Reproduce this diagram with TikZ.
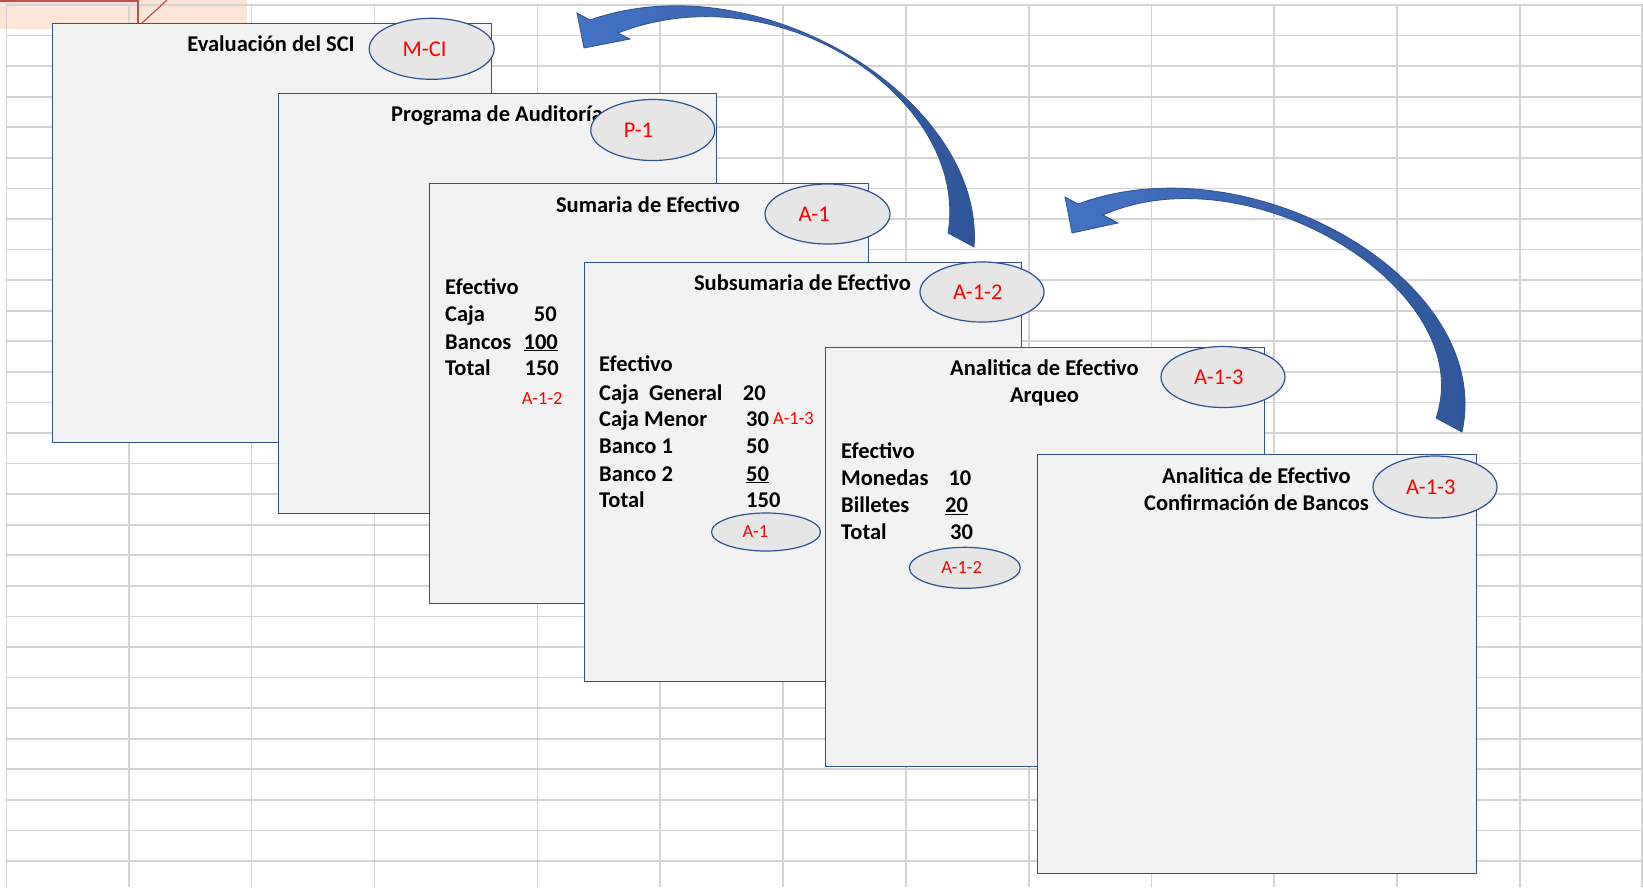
\documentclass[tikz,border=0pt]{standalone}
\usepackage{fontspec}
\setmainfont{Carlito}
\usetikzlibrary{shapes.geometric}
\definecolor{boxfill}{HTML}{F2F2F2}
\definecolor{boxline}{HTML}{2F528F}
\definecolor{ellfill}{HTML}{E6E6E6}
\definecolor{gridgray}{HTML}{D4D4D4}
\definecolor{pinkband}{HTML}{FCE4D6}
\definecolor{redline}{HTML}{C0504D}
\definecolor{arrowlight}{HTML}{4472C4}
\definecolor{arrowdark}{HTML}{2F5597}
\newcommand{\bigref}[1]{\makebox[58pt][l]{#1}}
\newcommand{\smallref}[1]{\makebox[47pt][l]{#1}}
\begin{document}
\begin{tikzpicture}[x=1pt,y=-1pt,
  sheet/.style={draw=boxline, line width=1.4pt, fill=boxfill},
  refmark/.style={ellipse, draw=boxline, line width=1.2pt, fill=ellfill, inner sep=0pt, text=red, font=\fontsize{22.5}{27}\selectfont},
  srefmark/.style={refmark, font=\fontsize{18.5}{22}\selectfont},
  titletxt/.style={anchor=base, inner sep=0pt, font=\bfseries\fontsize{22.5}{27}\selectfont},
  bodytxt/.style={anchor=base west, inner sep=0pt, font=\bfseries\fontsize{22.5}{27}\selectfont},
  numr/.style={anchor=base east, inner sep=0pt, font=\bfseries\fontsize{22.5}{27}\selectfont},
  redtxt/.style={anchor=base west, inner sep=0pt, text=red, font=\fontsize{18.5}{22}\selectfont},
  gridline/.style={draw=gridgray, line width=1.8pt},
  blockarrow/.style={draw=boxline, line width=0.8pt, left color=arrowlight, right color=arrowdark}]
\useasboundingbox (0,0) rectangle (1643,887);
\fill[white] (0,0) rectangle (1643,887);
% spreadsheet background
\fill[pinkband] (0,0) rectangle (247,29);
\foreach \xx in {6.5,129,251.5,374.5,537.5,660,783,906,1029,1151.5,1274,1397,1520,1642}
  \draw[gridline] (\xx,5) -- (\xx,887);
\foreach \k in {0,...,28}
  \draw[gridline] (6,{5+30.57*\k}) -- (1643,{5+30.57*\k});
\draw[redline, line width=1.4pt] (0,1) -- (138,1) -- (138,23);
\draw[redline, line width=1.2pt] (167,0) -- (142,23);

% sheet 1
\node[sheet, anchor=north west, minimum width=439pt, minimum height=419pt, inner sep=0pt] (s1) at (52,23) {};
\node[titletxt] (t1) at (271,51.7) {Evaluación del SCI};
\node[refmark, minimum width=125pt, minimum height=61pt] (e1) at (431.7,48.8) {\bigref{M-CI}};

% sheet 2
\node[sheet, anchor=north west, minimum width=438pt, minimum height=420pt, inner sep=0pt] (s2) at (278,93) {};
\node[titletxt] (t2) at (497,121.7) {Programa de Auditoría};
\node[refmark, minimum width=124pt, minimum height=61pt] (e2) at (652.8,130) {\bigref{P-1}};

% sheet 3
\node[sheet, anchor=north west, minimum width=439pt, minimum height=420pt, inner sep=0pt] (s3) at (429,183) {};
\node[titletxt] (t3) at (648,212) {Sumaria de Efectivo};
\node[refmark, minimum width=125pt, minimum height=60pt] (e3) at (827.5,214) {\bigref{A-1}};
\node[bodytxt] (a1) at (445,294) {Efectivo};
\node[bodytxt] (a2) at (445,321.7) {Caja};
\node[numr] (a2n) at (557,321.7) {50};
\node[bodytxt] (a3) at (445,349) {Bancos};
\node[numr] (a3n) at (558,349) {\underline{100}};
\node[bodytxt] (a4) at (445,375) {Total};
\node[numr] (a4n) at (559,375) {150};
\node[redtxt] (a5) at (521.7,404) {A-1-2};

% sheet 4
\node[sheet, anchor=north west, minimum width=437pt, minimum height=419pt, inner sep=0pt] (s4) at (584,262) {};
\node[titletxt] (t4) at (802.5,290) {Subsumaria de Efectivo};
\node[refmark, minimum width=124pt, minimum height=60pt] (e4) at (982,292) {\bigref{A-1-2}};
\node[bodytxt] (b1) at (599,371.7) {Efectivo};
\node[bodytxt] (b2) at (599,400) {Caja\ \ General};
\node[bodytxt] (b2n) at (742.7,400) {20};
\node[bodytxt] (b3) at (599,426.7) {Caja Menor};
\node[bodytxt] (b3n) at (746,426.7) {30};
\node[redtxt] (b3r) at (773,424) {A-1-3};
\node[bodytxt] (b4) at (599,453.3) {Banco 1};
\node[bodytxt] (b4n) at (746,453.3) {50};
\node[bodytxt] (b5) at (599,481) {Banco 2};
\node[bodytxt] (b5n) at (746,481) {\underline{50}};
\node[bodytxt] (b6) at (599,507.7) {Total};
\node[bodytxt] (b6n) at (746,507.7) {150};
\node[srefmark, minimum width=109pt, minimum height=38pt] (e7) at (766,532) {\smallref{A-1}};

% sheet 5
\node[sheet, anchor=north west, minimum width=439pt, minimum height=419pt, inner sep=0pt] (s5) at (825,347) {};
\node[titletxt] (t5a) at (1044.5,375) {Analitica de Efectivo};
\node[titletxt] (t5b) at (1044.5,402.7) {Arqueo};
\node[refmark, minimum width=124pt, minimum height=61pt] (e5) at (1223,377) {\bigref{A-1-3}};
\node[bodytxt] (c1) at (841,458.3) {Efectivo};
\node[bodytxt] (c2) at (841,485.7) {Monedas};
\node[bodytxt] (c2n) at (948.3,485.7) {10};
\node[bodytxt] (c3) at (841,512.7) {Billetes};
\node[bodytxt] (c3n) at (945,512.7) {\underline{20}};
\node[bodytxt] (c4) at (841,539) {Total};
\node[bodytxt] (c4n) at (950,539) {30};
\node[srefmark, minimum width=111pt, minimum height=41pt] (e8) at (964.8,567.8) {\smallref{A-1-2}};

% sheet 6
\node[sheet, anchor=north west, minimum width=439pt, minimum height=419pt, inner sep=0pt] (s6) at (1037,454) {};
\node[titletxt] (t6a) at (1256.5,483.3) {Analitica de Efectivo};
\node[titletxt] (t6b) at (1256.5,510) {Confirmación de Bancos};
\node[refmark, minimum width=124pt, minimum height=62pt] (e6) at (1435,487) {\bigref{A-1-3}};

% curved block arrows
\path[blockarrow] (974,247) .. controls (985,100) and (760,-40) .. (590,20)
  -- (577,13) -- (584,48) -- (630,39) -- (618,33)
  .. controls (780,-30) and (970,100) .. (948,233) -- cycle;
\path[blockarrow] (1462,432) .. controls (1495,280) and (1250,140) .. (1078,204)
  -- (1065,197) -- (1072,233) -- (1118,223) -- (1103,215)
  .. controls (1250,150) and (1480,290) .. (1436,418) -- cycle;
\end{tikzpicture}
\end{document}
